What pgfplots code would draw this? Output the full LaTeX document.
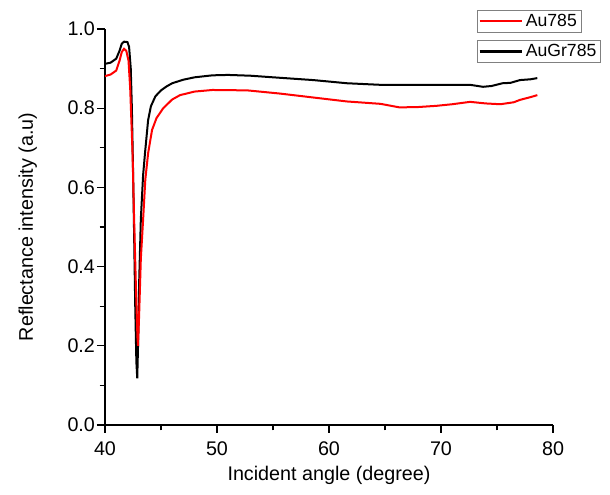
\documentclass[border=0pt]{standalone}
\usepackage{fontspec}
\setmainfont{Liberation Sans}
\usepackage{pgfplots}
\pgfplotsset{compat=1.18}
\begin{document}
\begin{tikzpicture}
\path[use as bounding box] (-78.75pt,-52.5pt) rectangle (378.75pt,318.75pt);
\pgfplotsset{
  common/.style={
    scale only axis, width=336pt, height=297pt,
    xmin=40, xmax=80, ymin=0, ymax=1.0,
    font=\fontsize{14.8}{17}\selectfont,
    /pgf/number format/assume math mode=true,
  },
  legaxis/.style={common, hide axis,
    legend style={at={(rel axis cs:0.830,#1)}, anchor=north west, draw=gray,
      font=\fontsize{13.2}{15}\selectfont, inner sep=1pt},
    legend image code/.code={\draw[##1] (0pt,0pt) -- (32pt,0pt);},
  },
}
\begin{axis}[common,
  axis lines*=left,
  axis line style={line width=1pt},
  tick align=outside,
  major tick style={line width=1pt, black},
  minor tick style={line width=1pt, black},
  major tick length=6pt, minor tick length=4pt,
  xtick={40,50,60,70,80}, minor xtick={45,55,65,75},
  ytick={0,0.2,0.4,0.6,0.8,1.0}, minor ytick={0.1,0.3,0.5,0.7,0.9},
  yticklabel style={/pgf/number format/.cd, fixed, fixed zerofill, precision=1},
  xticklabel style={/pgf/number format/.cd, fixed, precision=0},
  xticklabel shift=3pt,
  yticklabel shift=-2pt,
  xlabel={Incident angle (degree)}, ylabel={Reflectance intensity (a.u)},
  xlabel style={at={(rel axis cs:0.5,0)}, anchor=center, yshift=-38pt},
  ylabel style={at={(rel axis cs:0,0.5)}, anchor=center, yshift=58pt},
]
\addplot[black, line width=1.5pt] coordinates {
(40.0,0.912) (40.5,0.915) (41.0,0.925) (41.3,0.945) (41.5,0.963) (41.7,0.968)
(42.0,0.967) (42.15,0.955) (42.3,0.90) (42.4,0.80) (42.5,0.65) (42.6,0.48)
(42.7,0.30) (42.8,0.16) (42.88,0.118) (42.95,0.20) (43.05,0.36) (43.2,0.52)
(43.4,0.63) (43.57,0.686) (43.85,0.77) (44.1,0.805) (44.5,0.83) (45.0,0.845)
(45.5,0.855) (46.0,0.863) (47.0,0.872) (48.0,0.878) (49.6,0.883) (51.0,0.884)
(53.0,0.882) (55.0,0.878) (58.6,0.871) (61.6,0.863) (64.6,0.859) (67,0.859)
(70,0.859) (72.6,0.859) (73.75,0.854) (74.5,0.856) (75.5,0.863) (76.2,0.864)
(77.05,0.871) (78.0,0.873) (78.6,0.876)
};
\addplot[red, line width=1.5pt] coordinates {
(40.0,0.881) (40.5,0.885) (41.0,0.895) (41.3,0.92) (41.5,0.942) (41.7,0.950)
(41.9,0.945) (42.1,0.92) (42.25,0.85) (42.46,0.686) (42.6,0.52) (42.75,0.36)
(42.9,0.22) (42.95,0.200) (43.05,0.28) (43.2,0.42) (43.4,0.517) (43.6,0.62)
(43.85,0.686) (44.2,0.745) (44.6,0.775) (45.2,0.80) (46.0,0.822) (46.7,0.833)
(48,0.842) (49.6,0.846) (52.7,0.845) (55.6,0.837) (58.6,0.827) (61.6,0.817)
(64.6,0.811) (66.3,0.802) (68,0.803) (69.6,0.806) (71,0.81) (72.6,0.816)
(74,0.812) (75.3,0.81) (76.5,0.815) (77.05,0.821) (78.0,0.828) (78.6,0.833)
};
\end{axis}
\begin{axis}[legaxis=1.048]
\addlegendimage{red, line width=1.6pt}
\addlegendentry{Au785}
\end{axis}
\begin{axis}[legaxis=0.972]
\addlegendimage{black, line width=1.6pt}
\addlegendentry{AuGr785}
\end{axis}
\end{tikzpicture}
\end{document}
